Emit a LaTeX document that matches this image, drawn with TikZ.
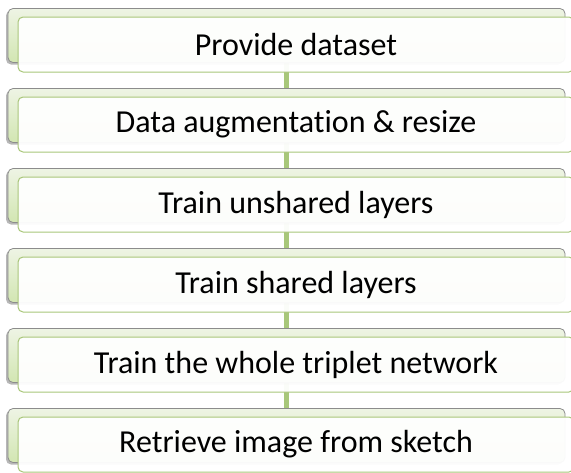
\documentclass[tikz,border=0pt]{standalone}
\usepackage{fontspec}
\setmainfont{Carlito}[Ligatures={NoCommon}]
\usetikzlibrary{shadows,backgrounds}
\definecolor{backtop}{HTML}{EEF4E4}
\definecolor{backbot}{HTML}{D2E6B2}
\definecolor{backline}{HTML}{8C8C8C}
\definecolor{frontline}{HTML}{A9C67A}
\definecolor{connline}{HTML}{A8C77A}
\tikzset{
  backbox/.style={rectangle, rounded corners=5pt, minimum width=557pt, minimum height=54pt,
    inner sep=0pt, outer sep=0pt, draw=backline, line width=0.8pt,
    top color=backtop, bottom color=backbot,
    drop shadow={shadow xshift=-2pt, shadow yshift=-2pt, opacity=0.4, fill=black!70}},
  frontbox/.style={rectangle, rounded corners=5pt, minimum width=556pt, minimum height=55pt,
    inner sep=0pt, outer sep=0pt, draw=frontline, line width=1pt,
    fill=white, fill opacity=0.95, text opacity=1,
    font=\fontsize{32}{38}\selectfont, text=black},
  conn/.style={connline, line width=5pt}
}
\begin{document}
\begin{tikzpicture}[x=1pt,y=-1pt]
\useasboundingbox (0,0) rectangle (571,472);
\clip (0,0) rectangle (571,472);
\foreach \i/\t in {1/{Provide dataset},2/{Data augmentation \& resize},3/{Train unshared layers},4/{Train shared layers},5/{Train the whole triplet network},6/{Retrieve image from sketch}}{
  \pgfmathsetmacro{\yb}{35.5+80*(\i-1)}
  \pgfmathsetmacro{\yf}{44.5+80*(\i-1)}
  \node[backbox] (b\i) at (286.5,\yb) {};
  \node[frontbox] (f\i) at (296,\yf) {\t};
}
\begin{scope}[on background layer]
  \foreach \i [count=\j from 2] in {1,...,5}{
    \draw[conn] (b\i.south) -- (b\j.north);
  }
\end{scope}
\end{tikzpicture}
\end{document}
